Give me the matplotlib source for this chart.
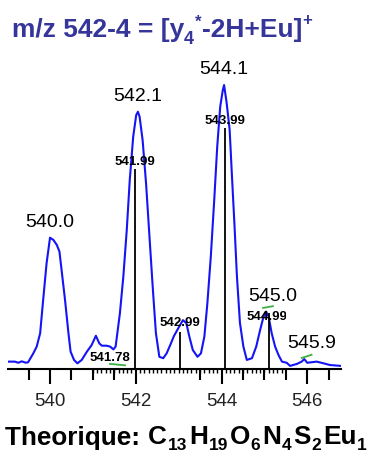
import numpy as np
import matplotlib
matplotlib.use("Agg")
import matplotlib.pyplot as plt
from matplotlib.patches import Rectangle

plt.rcParams['font.family'] = ['Liberation Sans', 'DejaVu Sans']

# profile spectrum (m/z, relative intensity)
mz = [539.02, 539.18, 539.26, 539.34, 539.44, 539.49, 539.61, 539.69, 539.77, 539.84,
      539.92, 540.00, 540.08, 540.16, 540.22, 540.27, 540.35, 540.43, 540.48, 540.56,
      540.64, 540.74, 540.86, 540.97, 541.07, 541.15, 541.21, 541.32, 541.40, 541.48,
      541.53, 541.56, 541.63, 541.71, 541.79, 541.86, 541.94, 542.01, 542.05, 542.09,
      542.16, 542.24, 542.32, 542.40, 542.47, 542.55, 542.64, 542.72, 542.82, 542.89,
      542.99, 543.10, 543.18, 543.25, 543.33, 543.44, 543.52, 543.60, 543.67, 543.75,
      543.83, 543.90, 543.97, 544.03, 544.06, 544.12, 544.19, 544.24, 544.30, 544.36,
      544.43, 544.51, 544.59, 544.71, 544.81, 544.90, 544.98, 545.04, 545.10, 545.17,
      545.25, 545.33, 545.41, 545.52, 545.60, 545.76, 545.87, 545.93, 546.00, 546.22,
      546.38, 546.53, 546.78]
intensity = [2.7, 2.7, 2.3, 2.8, 2.3, 2.5, 5.6, 8.0, 12.7, 24.4,
             37.3, 46.3, 45.5, 43.7, 41.4, 34.9, 24.4, 12.7, 6.2, 3.3,
             2.1, 3.3, 6.2, 8.5, 11.8, 9.1, 8.3, 8.3, 8.0, 7.0,
             8.0, 11.5, 19.7, 32.6, 49.0, 66.6, 81.8, 89.4, 90.6, 88.8,
             80.6, 65.4, 46.6, 27.9, 12.7, 4.4, 3.9, 5.6, 9.1, 11.7,
             14.4, 17.3, 16.2, 11.5, 6.8, 4.4, 5.6, 11.5, 23.2, 39.6,
             59.5, 78.3, 92.4, 98.2, 100.0, 93.7, 84.2, 69.0, 51.5, 32.6,
             16.3, 8.0, 3.3, 3.9, 8.0, 13.8, 18.5, 20.3, 18.5, 12.7,
             8.0, 5.0, 2.7, 2.3, 1.2, 1.9, 2.7, 3.6, 2.3, 2.7,
             2.1, 1.5, 1.2]

# centroid sticks
stick_mz = [541.98, 543.03, 544.08, 545.11]
stick_int = [70.4, 13.2, 84.9, 19.8]

# peak apex labels
peak_mz = [540.00, 542.05, 544.06, 545.04, 545.93]
peak_int = [46.3, 90.6, 100.0, 20.3, 3.6]
peak_text = ['540.0', '542.1', '544.1', '545.0', '545.9']

# centroid labels
cent_mz = [541.40, 541.98, 543.03, 544.08, 545.07]
cent_int = [3.9, 72.9, 16.3, 87.5, 18.5]
cent_text = ['541.78', '541.99', '542.99', '543.99', '544.99']

# formula pieces: (element, count)
formula = [('C', '13'), ('H', '19'), ('O', '6'), ('N', '4'), ('S', '2'), ('Eu', '1')]

W, H = 376, 454
fig = plt.figure(figsize=(W / 100, H / 100), dpi=100)
ax = fig.add_axes([8 / W, 84.7 / H, 332.7 / W, 309.3 / H])

ax.plot(mz, intensity, color='#1414f5', lw=1.5, zorder=2)
ax.vlines(stick_mz, 0, stick_int, color='black', lw=1.3, zorder=3)

ax.set_xlim(539.02, 546.78)
ax.set_ylim(0, 108.8)

for s in ['left', 'right', 'top']:
    ax.spines[s].set_visible(False)
ax.spines['bottom'].set_linewidth(1.5)
ax.set_yticks([])

ax.set_xticks([540, 542, 544, 546])
ax.set_xticklabels(['540', '542', '544', '546'])
ax.tick_params(axis='x', which='major', length=11, width=1.5, pad=6,
               labelsize=13.5, labelcolor='#222222')
minor = np.round(np.arange(541.0, 545.45, 0.1), 2)
ax.set_xticks(minor, minor=True)
ax.tick_params(axis='x', which='minor', length=3, width=1.0)

# half-unit ticks
sec = ax.secondary_xaxis('bottom')
sec.spines['bottom'].set_visible(False)
sec.set_xticks([539.5, 540.5, 541.0, 541.5, 543.5, 544.5, 545.0, 545.5, 546.5])
sec.set_xticklabels([])
sec.tick_params(axis='x', length=8, width=1.5)

for x, y, t in zip(peak_mz, peak_int, peak_text):
    dx = 5 if x > 545 else 0
    ax.annotate(t, (x, y), xytext=(dx, 11), textcoords='offset points',
                ha='center', va='center', fontsize=14, zorder=4)

for x, y, t in zip(cent_mz, cent_int, cent_text):
    txt = ax.annotate(t, (x, y), xytext=(0, 0), textcoords='offset points',
                      ha='center', va='center', fontsize=9.5, fontweight='bold',
                      zorder=4)
    if t == '544.99':
        clip = Rectangle((539, 0), 545.51 - 539, 108.8, transform=ax.transData)
        txt.set_clip_path(clip)

# small green marker ticks under some labels
green = [(541.40, 541.75, 1.9, 1.4), (544.97, 545.20, 21.6, 22.2), (545.87, 546.10, 4.0, 5.1)]
for x0, x1, y0, y1 in green:
    ax.plot([x0, x1], [y0, y1], color='#3cb043', lw=1.3, zorder=4)


# text runs with hand placed sub/superscripts (x, baseline in pixels from top)
renderer = fig.canvas.get_renderer()

def write_runs(x, base, runs, color):
    for s, size, raise_px, gap in runs:
        t = fig.text(x / W, 1 - (base - raise_px) / H, s, fontsize=size,
                     fontweight='bold', color=color, ha='left', va='baseline')
        x += t.get_window_extent(renderer).width + gap


title_runs = [('m/z 542-4 = [y', 19, 0, 0),
              ('4', 13, -7, 0.5),
              ('*', 12, 11, 0.5),
              ('-2H+Eu]', 19, 0, 0.5),
              ('+', 12, 13, 0)]
write_runs(12, 37.5, title_runs, '#35359a')

bottom_runs = [('Theorique: ', 18.8, 0, 1)]
for el, n in formula:
    bottom_runs.append((el, 18.8, 0, 0.5))
    bottom_runs.append((n, 12.5, -6, 2))
write_runs(5, 444.5, bottom_runs, 'black')

fig.savefig('out.png', dpi=100)
